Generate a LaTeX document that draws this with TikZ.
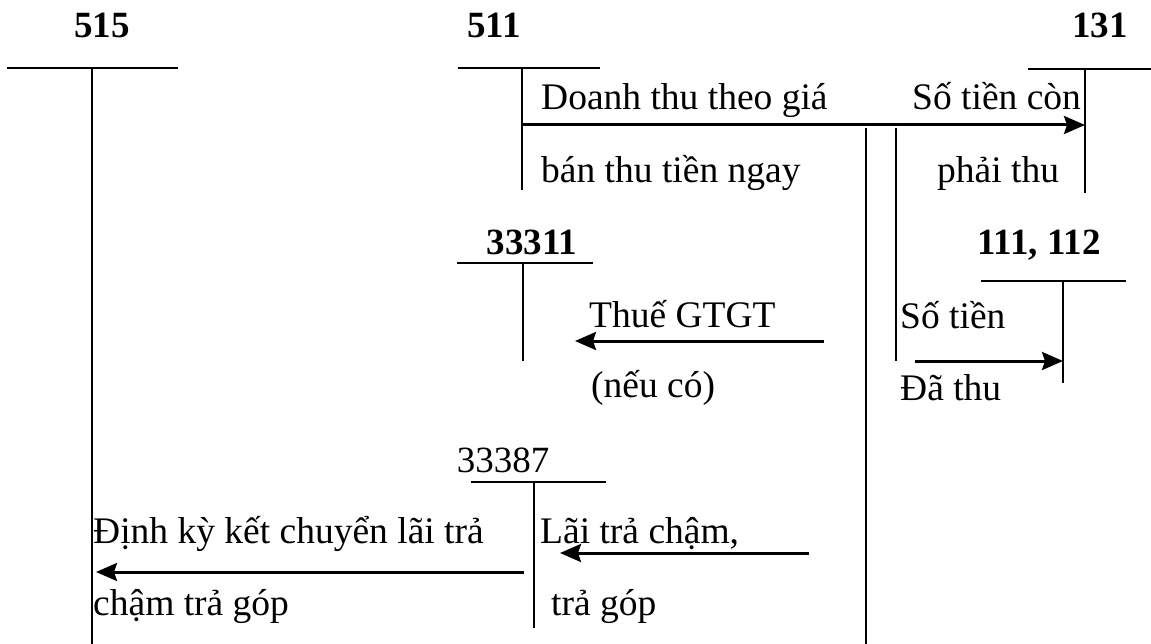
\documentclass[tikz,border=0pt]{standalone}
\usepackage{fontspec}
\setmainfont{Liberation Serif}
\usetikzlibrary{arrows.meta}

\begin{document}
\begin{tikzpicture}[x=1pt, y=-1pt,
        num/.style={font=\fontsize{37}{40}\selectfont\bfseries, inner sep=0pt, anchor=base},
        txt/.style={font=\fontsize{37.5}{40}\selectfont, inner sep=0pt, anchor=base west},
        tline/.style={line width=1.6pt},
        arrow/.style={-{Stealth[length=21pt, width=18pt, inset=3pt]}, line width=3pt}
    ]
    \useasboundingbox (0,0) rectangle (1151,644);

    % account numbers
    \node[num] (n515) at (102,38) {515};
    \node[num] (n511) at (494,38) {511};
    \node[num] (n131) at (1100,38) {131};
    \node[num] (n33311) at (532,255) {33311};
    \node[num] (n111) at (1039,255) {111, 112};
    \node[num, font=\fontsize{37}{40}\selectfont] (n33387) at (503,472) {33387};

    % T accounts
    \draw[tline] (7,68) -- (178,68) (92,68) -- (92,644);
    \draw[tline] (458,68) -- (600,68) (522,68) -- (522,190);
    \draw[tline] (1028,69) -- (1151,69) (1085,69) -- (1085,193);
    \draw[tline] (457,263) -- (593,263) (523,263) -- (523,361);
    \draw[tline] (981,281) -- (1126,281) (1063,281) -- (1063,383);
    \draw[tline] (471,482) -- (606,482) (534,482) -- (534,628);
    \draw[tline] (866,128) -- (866,644);
    \draw[tline] (896,128) -- (896,361);

    % arrow ends
    \coordinate (s511) at (522,125);
    \coordinate (e131) at (1085,125);
    \coordinate (sThue) at (824,341);
    \coordinate (e33311) at (575,341);
    \coordinate (sTien) at (915,361);
    \coordinate (e111) at (1063,361);
    \coordinate (s33387) at (524,572);
    \coordinate (e515) at (96,572);
    \coordinate (sLai) at (809,553);
    \coordinate (eLai) at (560,553);

    \draw[arrow] (s511) -- (e131);
    \draw[arrow] (sThue) -- (e33311);
    \draw[arrow] (sTien) -- (e111);
    \draw[arrow] (s33387) -- (e515);
    \draw[arrow] (sLai) -- (eLai);

    % entries
    \node[txt] (dt1) at (541,110) {Doanh thu theo giá};
    \node[txt] (dt2) at (541,183) {bán thu tiền ngay};
    \node[txt] (con1) at (912,110) {Số tiền còn};
    \node[txt] (con2) at (937,183) {phải thu};
    \node[txt] (thue1) at (589,327) {Thuế GTGT};
    \node[txt] (thue2) at (591,397) {(nếu có)};
    \node[txt] (thu1) at (900,328) {Số tiền};
    \node[txt] (thu2) at (900,400) {Đã thu};
    \node[txt] (kc1) at (93,543) {Định kỳ kết chuyển lãi trả};
    \node[txt] (kc2) at (93,615) {chậm trả góp};
    \node[txt] (lai1) at (540,543) {Lãi trả chậm,};
    \node[txt] (lai2) at (551,615) {trả góp};

\end{tikzpicture}
\end{document}
